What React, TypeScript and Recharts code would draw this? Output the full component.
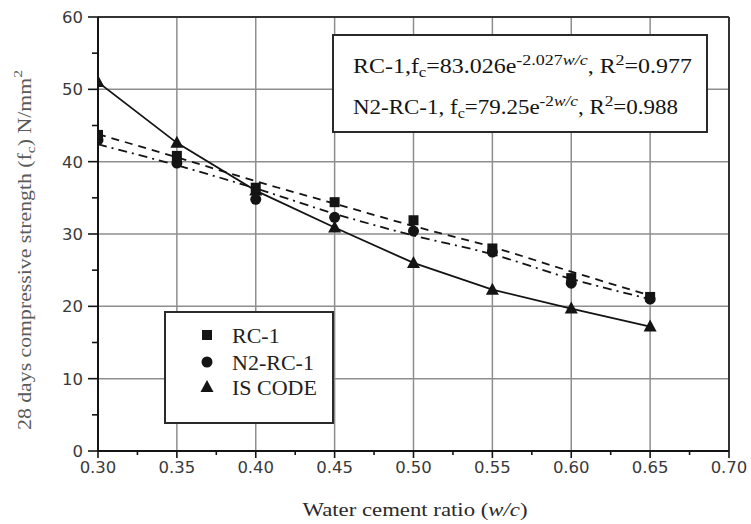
import React from 'react';
import {
  ComposedChart,
  Line,
  XAxis,
  YAxis,
  ReferenceLine,
} from 'recharts';

// water cement ratio (x categories)
const wcRatio = [0.3, 0.35, 0.4, 0.45, 0.5, 0.55, 0.6, 0.65];
// measured strengths, N/mm2
const rc1Values = [43.7, 40.8, 36.4, 34.4, 31.9, 28.0, 23.9, 21.3];
const n2rc1Values = [43.0, 39.8, 34.8, 32.3, 30.4, 27.5, 23.2, 21.0];
const isCodeValues = [51.0, 42.6, 36.0, 30.9, 26.0, 22.3, 19.7, 17.2];
// trend lines
const rc1FitValues = [43.8, 40.6, 37.3, 34.2, 31.1, 28.2, 24.8, 21.5];
const n2FitValues = [42.4, 39.5, 36.3, 32.8, 29.8, 27.2, 23.8, 21.0];

const xTicks = [0.3, 0.325, 0.35, 0.375, 0.4, 0.425, 0.45, 0.475, 0.5, 0.525, 0.55, 0.575, 0.6, 0.625, 0.65, 0.675, 0.7];
const yTicks = [0, 5, 10, 15, 20, 25, 30, 35, 40, 45, 50, 55, 60];
const xGrid = [0.35, 0.4, 0.45, 0.5, 0.55, 0.6, 0.65];
const yGrid = [10, 20, 30, 40, 50];

const data = wcRatio.map((wc, i) => ({
  wc,
  rc1: rc1Values[i],
  n2rc1: n2rc1Values[i],
  isCode: isCodeValues[i],
  rc1Fit: rc1FitValues[i],
  n2Fit: n2FitValues[i],
}));

const INK = '#141414';
const GRID = '#8e8e8e';
const TICK_FONT = '"DejaVu Sans", Verdana, sans-serif';
const SERIF = '"Liberation Serif", "Times New Roman", serif';

const isMajorX = (v: number) => Math.abs(v * 20 - Math.round(v * 20)) < 1e-6;
const isMajorY = (v: number) => v % 10 === 0;

const XTick = (props: any) => {
  const { x, y, payload } = props;
  const v = payload.value;
  const major = isMajorX(v);
  return (
    <g>
      <line x1={x} x2={x} y1={y} y2={y + (major ? 7 : 4)} stroke={INK} strokeWidth={1.6} />
      {major && (
        <text x={x} y={y + 22} textAnchor="middle" fontSize={16.5} fontFamily={TICK_FONT} fill="#3a3a3a">
          {v.toFixed(2)}
        </text>
      )}
    </g>
  );
};

const YTick = (props: any) => {
  const { x, y, payload } = props;
  const v = payload.value;
  const major = isMajorY(v);
  return (
    <g>
      <line x1={x - (major ? 10 : 6)} x2={x} y1={y} y2={y} stroke={INK} strokeWidth={1.6} />
      {major && (
        <text x={x - 15} y={y + 6} textAnchor="end" fontSize={16.5} fontFamily={TICK_FONT} fill="#3a3a3a">
          {v}
        </text>
      )}
    </g>
  );
};

const Square = (props: any) => {
  const { cx, cy, index } = props;
  return <rect key={`sq-${index}`} x={cx - 5} y={cy - 5} width={10} height={10} fill={INK} />;
};

const Circle = (props: any) => {
  const { cx, cy, index } = props;
  return <circle key={`ci-${index}`} cx={cx} cy={cy} r={5.5} fill={INK} />;
};

const Triangle = (props: any) => {
  const { cx, cy, index } = props;
  return (
    <polygon
      key={`tr-${index}`}
      points={`${cx},${cy - 7} ${cx - 6.5},${cy + 5} ${cx + 6.5},${cy + 5}`}
      fill={INK}
    />
  );
};

function Overlay() {
  return (
    <svg width={751} height={524} style={{ position: 'absolute', left: 0, top: 0, pointerEvents: 'none' }}>
      {/* y axis title */}
      <text
        transform="translate(31,250) rotate(-90)"
        textAnchor="middle"
        fontSize={18}
        fontFamily={SERIF}
        fill="#5a5a5a"
        textLength={360}
        lengthAdjust="spacingAndGlyphs"
      >
        28 days compressive strength (f
        <tspan fontSize={13} dy={4}>c</tspan>
        <tspan dy={-4}>) N/mm</tspan>
        <tspan fontSize={13} dy={-9}>2</tspan>
      </text>

      {/* x axis title */}
      <text
        x={415}
        y={516}
        textAnchor="middle"
        fontSize={18}
        fontFamily={SERIF}
        fill="#2a2a2a"
        textLength={225}
        lengthAdjust="spacingAndGlyphs"
      >
        Water cement ratio (<tspan fontStyle="italic">w/c</tspan>)
      </text>

      {/* fit equations */}
      <rect x={333} y={35} width={374} height={97} fill="#fff" stroke="#2a2a2a" strokeWidth={2} />
      <text x={353} y={73} fontSize={20} fontFamily={SERIF} fill={INK} textLength={339} lengthAdjust="spacingAndGlyphs">
        RC-1,f
        <tspan fontSize={14} dy={4}>c</tspan>
        <tspan dy={-4}>=83.026e</tspan>
        <tspan fontSize={15} dy={-8}>-2.027</tspan>
        <tspan fontSize={15} fontStyle="italic">w/c</tspan>
        <tspan dy={8}>, R</tspan>
        <tspan fontSize={15} dy={-8}>2</tspan>
        <tspan dy={8}>=0.977</tspan>
      </text>
      <text x={353} y={114} fontSize={20} fontFamily={SERIF} fill={INK} textLength={325} lengthAdjust="spacingAndGlyphs">
        N2-RC-1, f
        <tspan fontSize={14} dy={4}>c</tspan>
        <tspan dy={-4}>=79.25e</tspan>
        <tspan fontSize={15} dy={-8}>-2</tspan>
        <tspan fontSize={15} fontStyle="italic">w/c</tspan>
        <tspan dy={8}>, R</tspan>
        <tspan fontSize={15} dy={-8}>2</tspan>
        <tspan dy={8}>=0.988</tspan>
      </text>

      {/* legend */}
      <rect x={165} y={312} width={168} height={111} fill="#fff" stroke="#2a2a2a" strokeWidth={2} />
      <rect x={202} y={330} width={10} height={10} fill={INK} />
      <circle cx={207} cy={362} r={5.5} fill={INK} />
      <polygon points="207,380 200.5,392 213.5,392" fill={INK} />
      <text x={232} y={343} fontSize={22} fontFamily={SERIF} fill="#222">RC-1</text>
      <text x={232} y={370} fontSize={22} fontFamily={SERIF} fill="#222">N2-RC-1</text>
      <text x={232} y={395} fontSize={22} fontFamily={SERIF} fill="#222">IS CODE</text>
    </svg>
  );
}

export default function App() {
  return (
    <div style={{ position: 'absolute', left: 0, top: 0, width: 751, height: 524, background: '#fff' }}>
      <ComposedChart
        width={751}
        height={524}
        data={data}
        margin={{ top: 17, right: 22, bottom: 0, left: 0 }}
      >
        <XAxis
          dataKey="wc"
          type="number"
          domain={[0.3, 0.7]}
          ticks={xTicks}
          interval={0}
          height={73}
          tickSize={0}
          tickMargin={0}
          tick={<XTick />}
          axisLine={{ stroke: INK, strokeWidth: 2 }}
          allowDataOverflow
        />
        <YAxis
          type="number"
          domain={[0, 60]}
          ticks={yTicks}
          interval={0}
          width={98}
          tickSize={0}
          tickMargin={0}
          tick={<YTick />}
          axisLine={{ stroke: INK, strokeWidth: 2 }}
          allowDataOverflow
        />
        {xGrid.map((v) => (
          <ReferenceLine key={`gx-${v}`} x={v} stroke={GRID} strokeWidth={1.5} />
        ))}
        {yGrid.map((v) => (
          <ReferenceLine key={`gy-${v}`} y={v} stroke={GRID} strokeWidth={1.5} />
        ))}
        <ReferenceLine y={60} stroke="#333" strokeWidth={2} />
        <ReferenceLine x={0.7} stroke="#333" strokeWidth={2} />

        <Line
          dataKey="rc1Fit"
          type="monotone"
          stroke={INK}
          strokeWidth={1.8}
          strokeDasharray="8 6"
          dot={false}
          activeDot={false}
          isAnimationActive={false}
        />
        <Line
          dataKey="n2Fit"
          type="monotone"
          stroke={INK}
          strokeWidth={1.8}
          strokeDasharray="9 5 2 5"
          dot={false}
          activeDot={false}
          isAnimationActive={false}
        />
        <Line
          dataKey="isCode"
          type="linear"
          stroke={INK}
          strokeWidth={1.8}
          dot={Triangle}
          activeDot={false}
          isAnimationActive={false}
        />
        <Line dataKey="n2rc1" stroke="none" dot={Circle} activeDot={false} isAnimationActive={false} />
        <Line dataKey="rc1" stroke="none" dot={Square} activeDot={false} isAnimationActive={false} />
      </ComposedChart>
      <Overlay />
    </div>
  );
}
